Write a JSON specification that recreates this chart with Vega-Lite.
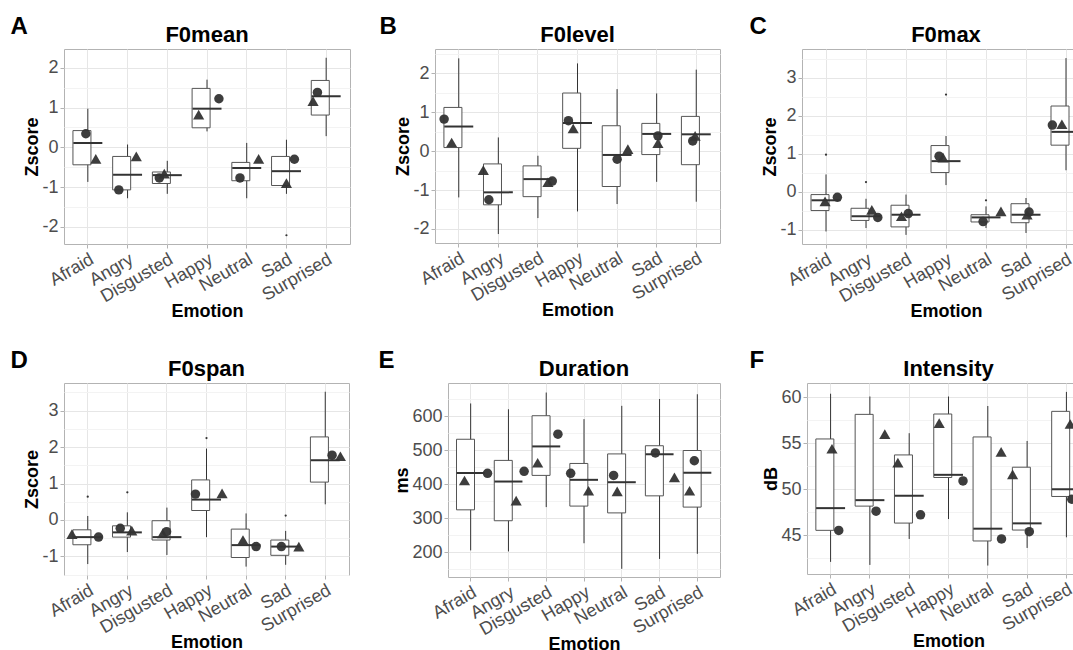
{
  "$schema": "https://vega.github.io/schema/vega-lite/v6.json",
  "padding": {"left": 10, "top": 14, "right": 0, "bottom": 0},
  "datasets": {
    "boxes": [
      {"p":"A","e":"Afraid","lo":-0.87,"q1":-0.44,"med":0.11,"q3":0.42,"hi":0.97},
      {"p":"A","e":"Angry","lo":-1.28,"q1":-1.07,"med":-0.69,"q3":-0.23,"hi":0.07},
      {"p":"A","e":"Disgusted","lo":-1.17,"q1":-0.91,"med":-0.70,"q3":-0.62,"hi":-0.34},
      {"p":"A","e":"Happy","lo":0.40,"q1":0.49,"med":0.97,"q3":1.48,"hi":1.70},
      {"p":"A","e":"Neutral","lo":-1.28,"q1":-0.84,"med":-0.52,"q3":-0.38,"hi":0.11},
      {"p":"A","e":"Sad","lo":-1.17,"q1":-0.96,"med":-0.60,"q3":-0.23,"hi":0.19},
      {"p":"A","e":"Surprised","lo":0.28,"q1":0.81,"med":1.28,"q3":1.68,"hi":2.25},
      {"p":"B","e":"Afraid","lo":-1.19,"q1":0.09,"med":0.63,"q3":1.12,"hi":2.38},
      {"p":"B","e":"Angry","lo":-2.13,"q1":-1.38,"med":-1.06,"q3":-0.33,"hi":0.35},
      {"p":"B","e":"Disgusted","lo":-1.72,"q1":-1.17,"med":-0.72,"q3":-0.38,"hi":-0.12},
      {"p":"B","e":"Happy","lo":-1.55,"q1":0.07,"med":0.72,"q3":1.49,"hi":2.25},
      {"p":"B","e":"Neutral","lo":-1.36,"q1":-0.91,"med":-0.10,"q3":0.65,"hi":1.59},
      {"p":"B","e":"Sad","lo":-0.79,"q1":-0.09,"med":0.44,"q3":0.71,"hi":1.48},
      {"p":"B","e":"Surprised","lo":-1.30,"q1":-0.35,"med":0.43,"q3":0.89,"hi":2.09},
      {"p":"C","e":"Afraid","lo":-1.04,"q1":-0.49,"med":-0.22,"q3":-0.07,"hi":0.46},
      {"p":"C","e":"Angry","lo":-0.95,"q1":-0.75,"med":-0.64,"q3":-0.43,"hi":-0.18},
      {"p":"C","e":"Disgusted","lo":-1.13,"q1":-0.92,"med":-0.60,"q3":-0.35,"hi":-0.07},
      {"p":"C","e":"Happy","lo":0.18,"q1":0.51,"med":0.81,"q3":1.22,"hi":1.47},
      {"p":"C","e":"Neutral","lo":-0.95,"q1":-0.79,"med":-0.67,"q3":-0.60,"hi":-0.38},
      {"p":"C","e":"Sad","lo":-1.08,"q1":-0.81,"med":-0.60,"q3":-0.31,"hi":-0.16},
      {"p":"C","e":"Surprised","lo":0.57,"q1":1.23,"med":1.58,"q3":2.26,"hi":3.52},
      {"p":"D","e":"Afraid","lo":-1.21,"q1":-0.68,"med":-0.47,"q3":-0.27,"hi":0.11},
      {"p":"D","e":"Angry","lo":-0.88,"q1":-0.47,"med":-0.34,"q3":-0.16,"hi":0.21},
      {"p":"D","e":"Disgusted","lo":-0.96,"q1":-0.55,"med":-0.47,"q3":-0.02,"hi":0.34},
      {"p":"D","e":"Happy","lo":-0.47,"q1":0.26,"med":0.56,"q3":1.10,"hi":1.96},
      {"p":"D","e":"Neutral","lo":-1.28,"q1":-1.03,"med":-0.69,"q3":-0.25,"hi":0.18},
      {"p":"D","e":"Sad","lo":-1.23,"q1":-0.97,"med":-0.73,"q3":-0.55,"hi":-0.30},
      {"p":"D","e":"Surprised","lo":0.43,"q1":1.04,"med":1.64,"q3":2.28,"hi":3.52},
      {"p":"E","e":"Afraid","lo":206,"q1":325,"med":433,"q3":532,"hi":637},
      {"p":"E","e":"Angry","lo":203,"q1":293,"med":408,"q3":470,"hi":620},
      {"p":"E","e":"Disgusted","lo":333,"q1":426,"med":511,"q3":601,"hi":669},
      {"p":"E","e":"Happy","lo":227,"q1":336,"med":413,"q3":461,"hi":591},
      {"p":"E","e":"Neutral","lo":152,"q1":316,"med":406,"q3":489,"hi":630},
      {"p":"E","e":"Sad","lo":181,"q1":366,"med":488,"q3":513,"hi":650},
      {"p":"E","e":"Surprised","lo":196,"q1":333,"med":434,"q3":499,"hi":664},
      {"p":"F","e":"Afraid","lo":42.07,"q1":45.51,"med":47.93,"q3":55.47,"hi":60.4},
      {"p":"F","e":"Angry","lo":41.74,"q1":48.15,"med":48.8,"q3":58.15,"hi":60.1},
      {"p":"F","e":"Disgusted","lo":44.57,"q1":46.3,"med":49.28,"q3":53.73,"hi":56.1},
      {"p":"F","e":"Happy","lo":46.74,"q1":51.27,"med":51.56,"q3":58.19,"hi":60.1},
      {"p":"F","e":"Neutral","lo":41.67,"q1":44.35,"med":45.69,"q3":55.69,"hi":59.06},
      {"p":"F","e":"Sad","lo":43.59,"q1":45.54,"med":46.27,"q3":52.39,"hi":55.25},
      {"p":"F","e":"Surprised","lo":44.75,"q1":49.2,"med":50.0,"q3":58.48,"hi":60.6}
    ],
    "outliers": [
      {"p":"A","e":"Sad","v":-2.21},
      {"p":"C","e":"Afraid","v":0.98},
      {"p":"C","e":"Angry","v":0.26},
      {"p":"C","e":"Happy","v":2.56},
      {"p":"C","e":"Neutral","v":-0.22},
      {"p":"D","e":"Afraid","v":0.64},
      {"p":"D","e":"Angry","v":0.76},
      {"p":"D","e":"Happy","v":2.25},
      {"p":"D","e":"Sad","v":0.12}
    ],
    "points": [
      {"p":"A","e":"Afraid","g":"a","j":-0.05,"v":0.34},{"p":"A","e":"Afraid","g":"b","j":0.2,"v":-0.29},
      {"p":"A","e":"Angry","g":"a","j":-0.22,"v":-1.07},{"p":"A","e":"Angry","g":"b","j":0.22,"v":-0.23},
      {"p":"A","e":"Disgusted","g":"a","j":-0.2,"v":-0.77},{"p":"A","e":"Disgusted","g":"b","j":-0.075,"v":-0.66},
      {"p":"A","e":"Happy","g":"a","j":0.3,"v":1.22},{"p":"A","e":"Happy","g":"b","j":-0.21,"v":0.82},
      {"p":"A","e":"Neutral","g":"a","j":-0.17,"v":-0.77},{"p":"A","e":"Neutral","g":"b","j":0.3,"v":-0.29},
      {"p":"A","e":"Sad","g":"a","j":0.2,"v":-0.3},{"p":"A","e":"Sad","g":"b","j":0.0,"v":-0.9},
      {"p":"A","e":"Surprised","g":"a","j":-0.22,"v":1.38},{"p":"A","e":"Surprised","g":"b","j":-0.33,"v":1.16},
      {"p":"B","e":"Afraid","g":"a","j":-0.37,"v":0.82},{"p":"B","e":"Afraid","g":"b","j":-0.18,"v":0.22},
      {"p":"B","e":"Angry","g":"a","j":-0.24,"v":-1.25},{"p":"B","e":"Angry","g":"b","j":-0.38,"v":-0.49},
      {"p":"B","e":"Disgusted","g":"a","j":0.36,"v":-0.77},{"p":"B","e":"Disgusted","g":"b","j":0.25,"v":-0.8},
      {"p":"B","e":"Happy","g":"a","j":-0.23,"v":0.78},{"p":"B","e":"Happy","g":"b","j":-0.11,"v":0.58},
      {"p":"B","e":"Neutral","g":"a","j":0.0,"v":-0.21},{"p":"B","e":"Neutral","g":"b","j":0.27,"v":0.05},
      {"p":"B","e":"Sad","g":"a","j":0.03,"v":0.39},{"p":"B","e":"Sad","g":"b","j":0.03,"v":0.2},
      {"p":"B","e":"Surprised","g":"a","j":-0.09,"v":0.26},{"p":"B","e":"Surprised","g":"b","j":-0.03,"v":0.39},
      {"p":"C","e":"Afraid","g":"a","j":0.29,"v":-0.14},{"p":"C","e":"Afraid","g":"b","j":-0.02,"v":-0.25},
      {"p":"C","e":"Angry","g":"a","j":0.3,"v":-0.67},{"p":"C","e":"Angry","g":"b","j":0.15,"v":-0.47},
      {"p":"C","e":"Disgusted","g":"a","j":0.06,"v":-0.57},{"p":"C","e":"Disgusted","g":"b","j":-0.11,"v":-0.64},
      {"p":"C","e":"Happy","g":"a","j":-0.17,"v":0.94},{"p":"C","e":"Happy","g":"b","j":-0.07,"v":0.9},
      {"p":"C","e":"Neutral","g":"a","j":-0.07,"v":-0.78},{"p":"C","e":"Neutral","g":"b","j":0.38,"v":-0.51},
      {"p":"C","e":"Sad","g":"a","j":0.08,"v":-0.53},{"p":"C","e":"Sad","g":"b","j":0.03,"v":-0.6},
      {"p":"C","e":"Surprised","g":"a","j":-0.34,"v":1.76},{"p":"C","e":"Surprised","g":"b","j":-0.1,"v":1.78},
      {"p":"D","e":"Afraid","g":"a","j":0.27,"v":-0.47},{"p":"D","e":"Afraid","g":"b","j":-0.4,"v":-0.39},
      {"p":"D","e":"Angry","g":"a","j":-0.18,"v":-0.23},{"p":"D","e":"Angry","g":"b","j":0.11,"v":-0.29},
      {"p":"D","e":"Disgusted","g":"a","j":-0.01,"v":-0.32},{"p":"D","e":"Disgusted","g":"b","j":-0.11,"v":-0.37},
      {"p":"D","e":"Happy","g":"a","j":-0.28,"v":0.71},{"p":"D","e":"Happy","g":"b","j":0.39,"v":0.73},
      {"p":"D","e":"Neutral","g":"a","j":0.25,"v":-0.73},{"p":"D","e":"Neutral","g":"b","j":-0.08,"v":-0.55},
      {"p":"D","e":"Sad","g":"a","j":-0.11,"v":-0.73},{"p":"D","e":"Sad","g":"b","j":0.33,"v":-0.73},
      {"p":"D","e":"Surprised","g":"a","j":0.17,"v":1.78},{"p":"D","e":"Surprised","g":"b","j":0.38,"v":1.75},
      {"p":"E","e":"Afraid","g":"a","j":0.4,"v":432},{"p":"E","e":"Afraid","g":"b","j":-0.18,"v":411},
      {"p":"E","e":"Angry","g":"a","j":0.37,"v":438},{"p":"E","e":"Angry","g":"b","j":0.17,"v":352},
      {"p":"E","e":"Disgusted","g":"a","j":0.27,"v":547},{"p":"E","e":"Disgusted","g":"b","j":-0.24,"v":463},
      {"p":"E","e":"Happy","g":"a","j":-0.36,"v":432},{"p":"E","e":"Happy","g":"b","j":0.09,"v":381},
      {"p":"E","e":"Neutral","g":"a","j":-0.23,"v":426},{"p":"E","e":"Neutral","g":"b","j":-0.14,"v":379},
      {"p":"E","e":"Sad","g":"a","j":-0.13,"v":492},{"p":"E","e":"Sad","g":"b","j":0.35,"v":420},
      {"p":"E","e":"Surprised","g":"a","j":-0.1,"v":469},{"p":"E","e":"Surprised","g":"b","j":-0.22,"v":381},
      {"p":"F","e":"Afraid","g":"a","j":0.2,"v":45.5},{"p":"F","e":"Afraid","g":"b","j":0.03,"v":54.4},
      {"p":"F","e":"Angry","g":"a","j":0.15,"v":47.6},{"p":"F","e":"Angry","g":"b","j":0.37,"v":56.0},
      {"p":"F","e":"Disgusted","g":"a","j":0.28,"v":47.2},{"p":"F","e":"Disgusted","g":"b","j":-0.29,"v":52.9},
      {"p":"F","e":"Happy","g":"a","j":0.36,"v":50.9},{"p":"F","e":"Happy","g":"b","j":-0.24,"v":57.2},
      {"p":"F","e":"Neutral","g":"a","j":0.34,"v":44.57},{"p":"F","e":"Neutral","g":"b","j":0.33,"v":54.06},
      {"p":"F","e":"Sad","g":"a","j":0.05,"v":45.36},{"p":"F","e":"Sad","g":"b","j":-0.37,"v":51.6},
      {"p":"F","e":"Surprised","g":"a","j":0.13,"v":48.9},{"p":"F","e":"Surprised","g":"b","j":0.09,"v":57.1}
    ]
  },
  "spacing": 26,
  "vconcat": [
    {
      "spacing": 28,
      "hconcat": [
        {
          "title": {"text": "A", "anchor": "start", "fontSize": 24, "dx": -13, "offset": -15},
          "vconcat": [{
            "width": 286, "height": 195,
            "title": {"text": "F0mean", "frame": "group"},
            "encoding": {"x": {"field": "e", "type": "nominal", "scale": {"domain": ["Afraid","Angry","Disgusted","Happy","Neutral","Sad","Surprised"], "paddingInner": 0, "paddingOuter": 0.1}, "axis": {"title": "Emotion"}}},
            "layer": [
              {"data": {"name": "boxes"}, "transform": [{"filter": "datum.p === 'A'"}], "mark": {"type": "rule", "color": "#333333"}, "encoding": {"y": {"field": "lo", "type": "quantitative", "scale": {"domain": [-2.43, 2.47], "nice": false, "zero": false}, "axis": {"values": [-1.5, -0.5, 0.5, 1.5], "labels": false, "ticks": false, "domain": false, "title": null, "grid": true, "gridColor": "#f3f3f3", "orient": "left"}}, "y2": {"field": "hi"}}},
              {"data": {"name": "boxes"}, "transform": [{"filter": "datum.p === 'A'"}], "mark": {"type": "bar", "fill": "white", "stroke": "#555555", "strokeWidth": 1, "width": {"band": 0.75}}, "encoding": {"y": {"field": "q1", "type": "quantitative", "axis": {"values": [-2, -1, 0, 1, 2], "labelExpr": "'' + datum.value", "title": "Zscore", "grid": true, "orient": "left"}}, "y2": {"field": "q3"}}},
              {"data": {"name": "boxes"}, "transform": [{"filter": "datum.p === 'A'"}], "mark": {"type": "tick", "color": "#333333", "opacity": 1, "size": 29, "thickness": 2}, "encoding": {"y": {"field": "med", "type": "quantitative", "axis": null}}},
              {"data": {"name": "outliers"}, "transform": [{"filter": "datum.p === 'A'"}], "mark": {"type": "circle", "color": "#333333", "size": 5, "opacity": 1}, "encoding": {"y": {"field": "v", "type": "quantitative", "axis": null}}},
              {"data": {"name": "points"}, "transform": [{"filter": "datum.p === 'A'"}], "mark": {"type": "point", "filled": true, "color": "#333333", "opacity": 0.95}, "encoding": {"y": {"field": "v", "type": "quantitative", "axis": null}, "xOffset": {"field": "j", "type": "quantitative", "scale": {"domain": [-0.5, 0.5]}}, "shape": {"field": "g", "type": "nominal", "scale": {"domain": ["a","b"], "range": ["circle","triangle-up"]}, "legend": null}, "size": {"field": "g", "type": "nominal", "scale": {"domain": ["a","b"], "range": [90, 125]}, "legend": null}}}
            ],
            "resolve": {"axis": {"y": "independent"}}
          }]
        },
        {
          "title": {"text": "B", "anchor": "start", "fontSize": 24, "dx": -15, "offset": -15},
          "vconcat": [{
            "width": 285, "height": 194,
            "title": {"text": "F0level", "frame": "group"},
            "encoding": {"x": {"field": "e", "type": "nominal", "scale": {"domain": ["Afraid","Angry","Disgusted","Happy","Neutral","Sad","Surprised"], "paddingInner": 0, "paddingOuter": 0.1}, "axis": {"title": "Emotion"}}},
            "layer": [
              {"data": {"name": "boxes"}, "transform": [{"filter": "datum.p === 'B'"}], "mark": {"type": "rule", "color": "#333333"}, "encoding": {"y": {"field": "lo", "type": "quantitative", "scale": {"domain": [-2.36, 2.62], "nice": false, "zero": false}, "axis": {"values": [-1.5, -0.5, 0.5, 1.5, 2.5], "labels": false, "ticks": false, "domain": false, "title": null, "grid": true, "gridColor": "#f3f3f3", "orient": "left"}}, "y2": {"field": "hi"}}},
              {"data": {"name": "boxes"}, "transform": [{"filter": "datum.p === 'B'"}], "mark": {"type": "bar", "fill": "white", "stroke": "#555555", "strokeWidth": 1, "width": {"band": 0.75}}, "encoding": {"y": {"field": "q1", "type": "quantitative", "axis": {"values": [-2, -1, 0, 1, 2], "labelExpr": "'' + datum.value", "title": "Zscore", "grid": true, "orient": "left"}}, "y2": {"field": "q3"}}},
              {"data": {"name": "boxes"}, "transform": [{"filter": "datum.p === 'B'"}], "mark": {"type": "tick", "color": "#333333", "opacity": 1, "size": 29, "thickness": 2}, "encoding": {"y": {"field": "med", "type": "quantitative", "axis": null}}},
              {"data": {"name": "outliers"}, "transform": [{"filter": "datum.p === 'B'"}], "mark": {"type": "circle", "color": "#333333", "size": 5, "opacity": 1}, "encoding": {"y": {"field": "v", "type": "quantitative", "axis": null}}},
              {"data": {"name": "points"}, "transform": [{"filter": "datum.p === 'B'"}], "mark": {"type": "point", "filled": true, "color": "#333333", "opacity": 0.95}, "encoding": {"y": {"field": "v", "type": "quantitative", "axis": null}, "xOffset": {"field": "j", "type": "quantitative", "scale": {"domain": [-0.5, 0.5]}}, "shape": {"field": "g", "type": "nominal", "scale": {"domain": ["a","b"], "range": ["circle","triangle-up"]}, "legend": null}, "size": {"field": "g", "type": "nominal", "scale": {"domain": ["a","b"], "range": [90, 125]}, "legend": null}}}
            ],
            "resolve": {"axis": {"y": "independent"}}
          }]
        },
        {
          "title": {"text": "C", "anchor": "start", "fontSize": 24, "dx": -12, "offset": -15},
          "vconcat": [{
            "width": 288, "height": 195,
            "title": {"text": "F0max", "frame": "group"},
            "encoding": {"x": {"field": "e", "type": "nominal", "scale": {"domain": ["Afraid","Angry","Disgusted","Happy","Neutral","Sad","Surprised"], "paddingInner": 0, "paddingOuter": 0.1}, "axis": {"title": "Emotion"}}},
            "layer": [
              {"data": {"name": "boxes"}, "transform": [{"filter": "datum.p === 'C'"}], "mark": {"type": "rule", "color": "#333333"}, "encoding": {"y": {"field": "lo", "type": "quantitative", "scale": {"domain": [-1.37, 3.76], "nice": false, "zero": false}, "axis": {"values": [-0.5, 0.5, 1.5, 2.5, 3.5], "labels": false, "ticks": false, "domain": false, "title": null, "grid": true, "gridColor": "#f3f3f3", "orient": "left"}}, "y2": {"field": "hi"}}},
              {"data": {"name": "boxes"}, "transform": [{"filter": "datum.p === 'C'"}], "mark": {"type": "bar", "fill": "white", "stroke": "#555555", "strokeWidth": 1, "width": {"band": 0.75}}, "encoding": {"y": {"field": "q1", "type": "quantitative", "axis": {"values": [-1, 0, 1, 2, 3], "labelExpr": "'' + datum.value", "title": "Zscore", "grid": true, "orient": "left"}}, "y2": {"field": "q3"}}},
              {"data": {"name": "boxes"}, "transform": [{"filter": "datum.p === 'C'"}], "mark": {"type": "tick", "color": "#333333", "opacity": 1, "size": 29, "thickness": 2}, "encoding": {"y": {"field": "med", "type": "quantitative", "axis": null}}},
              {"data": {"name": "outliers"}, "transform": [{"filter": "datum.p === 'C'"}], "mark": {"type": "circle", "color": "#333333", "size": 5, "opacity": 1}, "encoding": {"y": {"field": "v", "type": "quantitative", "axis": null}}},
              {"data": {"name": "points"}, "transform": [{"filter": "datum.p === 'C'"}], "mark": {"type": "point", "filled": true, "color": "#333333", "opacity": 0.95}, "encoding": {"y": {"field": "v", "type": "quantitative", "axis": null}, "xOffset": {"field": "j", "type": "quantitative", "scale": {"domain": [-0.5, 0.5]}}, "shape": {"field": "g", "type": "nominal", "scale": {"domain": ["a","b"], "range": ["circle","triangle-up"]}, "legend": null}, "size": {"field": "g", "type": "nominal", "scale": {"domain": ["a","b"], "range": [90, 125]}, "legend": null}}}
            ],
            "resolve": {"axis": {"y": "independent"}}
          }]
        }
      ]
    },
    {
      "spacing": 28,
      "hconcat": [
        {
          "title": {"text": "D", "anchor": "start", "fontSize": 24, "dx": -13, "offset": -15},
          "vconcat": [{
            "width": 285, "height": 192,
            "title": {"text": "F0span", "frame": "group"},
            "encoding": {"x": {"field": "e", "type": "nominal", "scale": {"domain": ["Afraid","Angry","Disgusted","Happy","Neutral","Sad","Surprised"], "paddingInner": 0, "paddingOuter": 0.1}, "axis": {"title": "Emotion"}}},
            "layer": [
              {"data": {"name": "boxes"}, "transform": [{"filter": "datum.p === 'D'"}], "mark": {"type": "rule", "color": "#333333"}, "encoding": {"y": {"field": "lo", "type": "quantitative", "scale": {"domain": [-1.51, 3.76], "nice": false, "zero": false}, "axis": {"values": [-1.5, -0.5, 0.5, 1.5, 2.5, 3.5], "labels": false, "ticks": false, "domain": false, "title": null, "grid": true, "gridColor": "#f3f3f3", "orient": "left"}}, "y2": {"field": "hi"}}},
              {"data": {"name": "boxes"}, "transform": [{"filter": "datum.p === 'D'"}], "mark": {"type": "bar", "fill": "white", "stroke": "#555555", "strokeWidth": 1, "width": {"band": 0.75}}, "encoding": {"y": {"field": "q1", "type": "quantitative", "axis": {"values": [-1, 0, 1, 2, 3], "labelExpr": "'' + datum.value", "title": "Zscore", "grid": true, "orient": "left"}}, "y2": {"field": "q3"}}},
              {"data": {"name": "boxes"}, "transform": [{"filter": "datum.p === 'D'"}], "mark": {"type": "tick", "color": "#333333", "opacity": 1, "size": 29, "thickness": 2}, "encoding": {"y": {"field": "med", "type": "quantitative", "axis": null}}},
              {"data": {"name": "outliers"}, "transform": [{"filter": "datum.p === 'D'"}], "mark": {"type": "circle", "color": "#333333", "size": 5, "opacity": 1}, "encoding": {"y": {"field": "v", "type": "quantitative", "axis": null}}},
              {"data": {"name": "points"}, "transform": [{"filter": "datum.p === 'D'"}], "mark": {"type": "point", "filled": true, "color": "#333333", "opacity": 0.95}, "encoding": {"y": {"field": "v", "type": "quantitative", "axis": null}, "xOffset": {"field": "j", "type": "quantitative", "scale": {"domain": [-0.5, 0.5]}}, "shape": {"field": "g", "type": "nominal", "scale": {"domain": ["a","b"], "range": ["circle","triangle-up"]}, "legend": null}, "size": {"field": "g", "type": "nominal", "scale": {"domain": ["a","b"], "range": [90, 125]}, "legend": null}}}
            ],
            "resolve": {"axis": {"y": "independent"}}
          }]
        },
        {
          "title": {"text": "E", "anchor": "start", "fontSize": 24, "dx": -15, "offset": -15},
          "vconcat": [{
            "width": 272, "height": 194,
            "title": {"text": "Duration", "frame": "group"},
            "encoding": {"x": {"field": "e", "type": "nominal", "scale": {"domain": ["Afraid","Angry","Disgusted","Happy","Neutral","Sad","Surprised"], "paddingInner": 0, "paddingOuter": 0.1}, "axis": {"title": "Emotion"}}},
            "layer": [
              {"data": {"name": "boxes"}, "transform": [{"filter": "datum.p === 'E'"}], "mark": {"type": "rule", "color": "#333333"}, "encoding": {"y": {"field": "lo", "type": "quantitative", "scale": {"domain": [128, 697], "nice": false, "zero": false}, "axis": {"values": [150, 250, 350, 450, 550, 650], "labels": false, "ticks": false, "domain": false, "title": null, "grid": true, "gridColor": "#f3f3f3", "orient": "left"}}, "y2": {"field": "hi"}}},
              {"data": {"name": "boxes"}, "transform": [{"filter": "datum.p === 'E'"}], "mark": {"type": "bar", "fill": "white", "stroke": "#555555", "strokeWidth": 1, "width": {"band": 0.75}}, "encoding": {"y": {"field": "q1", "type": "quantitative", "axis": {"values": [200, 300, 400, 500, 600], "labelExpr": "'' + datum.value", "title": "ms", "grid": true, "orient": "left"}}, "y2": {"field": "q3"}}},
              {"data": {"name": "boxes"}, "transform": [{"filter": "datum.p === 'E'"}], "mark": {"type": "tick", "color": "#333333", "opacity": 1, "size": 28, "thickness": 2}, "encoding": {"y": {"field": "med", "type": "quantitative", "axis": null}}},
              {"data": {"name": "outliers"}, "transform": [{"filter": "datum.p === 'E'"}], "mark": {"type": "circle", "color": "#333333", "size": 5, "opacity": 1}, "encoding": {"y": {"field": "v", "type": "quantitative", "axis": null}}},
              {"data": {"name": "points"}, "transform": [{"filter": "datum.p === 'E'"}], "mark": {"type": "point", "filled": true, "color": "#333333", "opacity": 0.95}, "encoding": {"y": {"field": "v", "type": "quantitative", "axis": null}, "xOffset": {"field": "j", "type": "quantitative", "scale": {"domain": [-0.5, 0.5]}}, "shape": {"field": "g", "type": "nominal", "scale": {"domain": ["a","b"], "range": ["circle","triangle-up"]}, "legend": null}, "size": {"field": "g", "type": "nominal", "scale": {"domain": ["a","b"], "range": [90, 125]}, "legend": null}}}
            ],
            "resolve": {"axis": {"y": "independent"}}
          }]
        },
        {
          "title": {"text": "F", "anchor": "start", "fontSize": 24, "dx": -13, "offset": -15},
          "vconcat": [{
            "width": 283, "height": 191,
            "title": {"text": "Intensity", "frame": "group"},
            "encoding": {"x": {"field": "e", "type": "nominal", "scale": {"domain": ["Afraid","Angry","Disgusted","Happy","Neutral","Sad","Surprised"], "paddingInner": 0, "paddingOuter": 0.1}, "axis": {"title": "Emotion"}}},
            "layer": [
              {"data": {"name": "boxes"}, "transform": [{"filter": "datum.p === 'F'"}], "mark": {"type": "rule", "color": "#333333"}, "encoding": {"y": {"field": "lo", "type": "quantitative", "scale": {"domain": [40.75, 61.57], "nice": false, "zero": false}, "axis": {"values": [42.5, 47.5, 52.5, 57.5], "labels": false, "ticks": false, "domain": false, "title": null, "grid": true, "gridColor": "#f3f3f3", "orient": "left"}}, "y2": {"field": "hi"}}},
              {"data": {"name": "boxes"}, "transform": [{"filter": "datum.p === 'F'"}], "mark": {"type": "bar", "fill": "white", "stroke": "#555555", "strokeWidth": 1, "width": {"band": 0.75}}, "encoding": {"y": {"field": "q1", "type": "quantitative", "axis": {"values": [45, 50, 55, 60], "labelExpr": "'' + datum.value", "title": "dB", "grid": true, "orient": "left"}}, "y2": {"field": "q3"}}},
              {"data": {"name": "boxes"}, "transform": [{"filter": "datum.p === 'F'"}], "mark": {"type": "tick", "color": "#333333", "opacity": 1, "size": 29, "thickness": 2}, "encoding": {"y": {"field": "med", "type": "quantitative", "axis": null}}},
              {"data": {"name": "outliers"}, "transform": [{"filter": "datum.p === 'F'"}], "mark": {"type": "circle", "color": "#333333", "size": 5, "opacity": 1}, "encoding": {"y": {"field": "v", "type": "quantitative", "axis": null}}},
              {"data": {"name": "points"}, "transform": [{"filter": "datum.p === 'F'"}], "mark": {"type": "point", "filled": true, "color": "#333333", "opacity": 0.95}, "encoding": {"y": {"field": "v", "type": "quantitative", "axis": null}, "xOffset": {"field": "j", "type": "quantitative", "scale": {"domain": [-0.5, 0.5]}}, "shape": {"field": "g", "type": "nominal", "scale": {"domain": ["a","b"], "range": ["circle","triangle-up"]}, "legend": null}, "size": {"field": "g", "type": "nominal", "scale": {"domain": ["a","b"], "range": [90, 125]}, "legend": null}}}
            ],
            "resolve": {"axis": {"y": "independent"}}
          }]
        }
      ]
    }
  ],
  "config": {
    "font": "Liberation Sans",
    "view": {"stroke": "#b3b3b3", "strokeWidth": 1},
    "axis": {"domain": false, "tickColor": "#b3b3b3", "tickSize": 4, "labelColor": "#4d4d4d", "labelFontSize": 18, "labelPadding": 2, "titleFontSize": 18, "titleFontWeight": "bold", "titleColor": "#000000", "gridColor": "#e6e6e6", "titlePadding": 0},
    "axisX": {"labelAngle": -30, "labelAlign": "right", "labelBaseline": "top", "labelOverlap": false, "grid": true, "titlePadding": -3},
    "title": {"fontSize": 22, "fontWeight": "bold", "color": "#000000", "offset": 2}
  }
}
